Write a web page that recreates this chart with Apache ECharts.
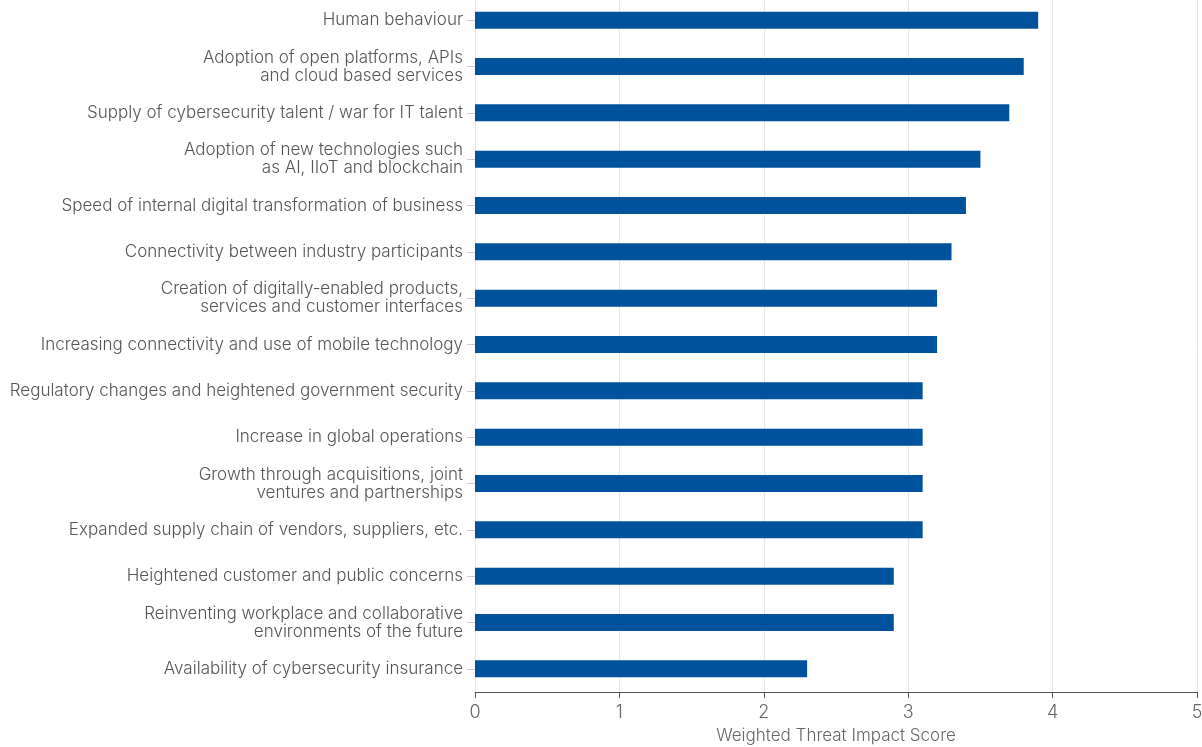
<!DOCTYPE html>
<html>
<head>
<meta charset="utf-8">
<script src="https://cdn.jsdelivr.net/npm/echarts@6/dist/echarts.min.js"></script>
<style>
html,body{margin:0;padding:0;background:#fff;}
#chart{width:1202px;height:747px;}
</style>
</head>
<body>
<div id="chart"></div>
<script>
var categories = [
  "Human behaviour",
  "Adoption of open platforms, APIs\nand cloud based services",
  "Supply of cybersecurity talent / war for IT talent",
  "Adoption of new technologies such\nas AI, IIoT and blockchain",
  "Speed of internal digital transformation of business",
  "Connectivity between industry participants",
  "Creation of digitally-enabled products,\nservices and customer interfaces",
  "Increasing connectivity and use of mobile technology",
  "Regulatory changes and heightened government security",
  "Increase in global operations",
  "Growth through acquisitions, joint\nventures and partnerships",
  "Expanded supply chain of vendors, suppliers, etc.",
  "Heightened customer and public concerns",
  "Reinventing workplace and collaborative\nenvironments of the future",
  "Availability of cybersecurity insurance"
];
var scores = [3.9, 3.8, 3.7, 3.5, 3.4, 3.3, 3.2, 3.2, 3.1, 3.1, 3.1, 3.1, 2.9, 2.9, 2.3];
var xTicks = [0, 1, 2, 3, 4, 5];
var xAxisTitle = "Weighted Threat Impact Score";

var chart = echarts.init(document.getElementById('chart'), null, {renderer: 'canvas'});
var font = "Inter, sans-serif";
chart.setOption({
  animation: false,
  grid: {left: 475, right: 5, top: -3, bottom: 55, containLabel: false, outerBoundsMode: 'none'},
  xAxis: {
    type: 'value',
    min: xTicks[0],
    max: xTicks[xTicks.length - 1],
    interval: 1,
    name: xAxisTitle,
    nameLocation: 'middle',
    nameGap: 35,
    nameTextStyle: {color: '#666', fontSize: 17, fontWeight: 300, fontFamily: font},
    axisLine: {show: true, lineStyle: {color: '#555', width: 1}},
    axisTick: {show: true, length: 6, lineStyle: {color: '#555'}},
    axisLabel: {color: '#666', fontSize: 18, fontWeight: 300, fontFamily: font, margin: 12},
    splitLine: {show: true, lineStyle: {color: '#e6e6e6', width: 1}}
  },
  yAxis: {
    type: 'category',
    data: categories,
    inverse: true,
    axisLine: {show: true, lineStyle: {color: '#e6e6e6'}},
    axisTick: {show: true, alignWithLabel: true, length: 8, lineStyle: {color: '#ccc'}},
    axisLabel: {color: '#555', fontSize: 17, fontWeight: 300, fontFamily: font, margin: 12, lineHeight: 18, align: 'right'}
  },
  series: [{
    type: 'bar',
    data: scores,
    barWidth: 17,
    itemStyle: {color: '#01529c'}
  }]
});
</script>
</body>
</html>
